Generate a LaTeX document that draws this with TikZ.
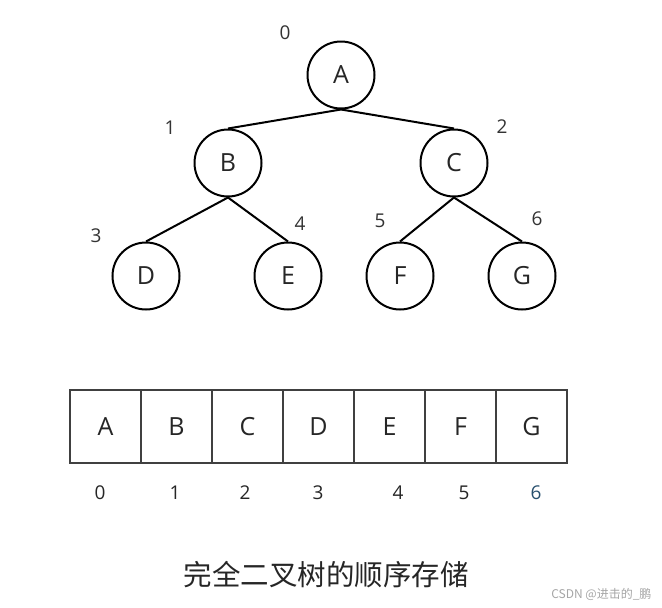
\documentclass[tikz,border=0pt]{standalone}
\usepackage{fontspec}
\setmainfont{Open Sans}
\newfontfamily\cjk{Noto Sans CJK SC}
\begin{document}
\begin{tikzpicture}[x=1pt,y=-1pt,
  tnode/.style={circle,draw=black,line width=2pt,minimum size=67pt,inner sep=0pt,font=\fontsize{25}{28}\selectfont,text=black!85},
  tedge/.style={line width=2pt,draw=black},
  idx/.style={font=\fontsize{19}{22}\selectfont,text=black!80},
  cell/.style={draw=black!75,line width=1.3pt,minimum width=71pt,minimum height=73pt,inner sep=0pt,font=\fontsize{25}{28}\selectfont,text=black!85},
  aidx/.style={font=\fontsize{19}{22}\selectfont,text=black!85}]
\useasboundingbox[fill=white] (0,0) rectangle (662,608);
% tree
\node[tnode] (A) at (341,75) {A};
\node[tnode] (B) at (228,163) {B};
\node[tnode] (C) at (454,163) {C};
\node[tnode] (D) at (146,276) {D};
\node[tnode] (E) at (288,276) {E};
\node[tnode] (F) at (400,276) {F};
\node[tnode] (G) at (522,276) {G};
\draw[tedge] (A.south) -- (B.north);
\draw[tedge] (A.south) -- (C.north);
\draw[tedge] (B.south) -- (D.north);
\draw[tedge] (B.south) -- (E.north);
\draw[tedge] (C.south) -- (F.north);
\draw[tedge] (C.south) -- (G.north);
% indices
\node[idx] (i0) at (285,33) {0};
\node[idx] (i1) at (170,128) {1};
\node[idx] (i2) at (502,127) {2};
\node[idx] (i3) at (96,236) {3};
\node[idx] (i4) at (300,224) {4};
\node[idx] (i5) at (380,221) {5};
\node[idx] (i6) at (537,219) {6};
% array
\node[cell] (a0) at (105.5,426.5) {A};
\node[cell] (a1) at (176.5,426.5) {B};
\node[cell] (a2) at (247.5,426.5) {C};
\node[cell] (a3) at (318.5,426.5) {D};
\node[cell] (a4) at (389.5,426.5) {E};
\node[cell] (a5) at (460.5,426.5) {F};
\node[cell] (a6) at (531.5,426.5) {G};
\node[aidx] (b0) at (100,493) {0};
\node[aidx] (b1) at (175,493) {1};
\node[aidx] (b2) at (245,493) {2};
\node[aidx] (b3) at (318,493) {3};
\node[aidx] (b4) at (398,493) {4};
\node[aidx] (b5) at (464,493) {5};
\node[aidx,text={rgb,255:red,40;green,80;blue,110}] (b6) at (536,493) {6};
% caption
\node[font=\cjk\fontsize{28.5}{32}\selectfont,text=black!85] (cap) at (326,575) {完全二叉树的顺序存储};
\node[font=\cjk\fontsize{12}{14}\selectfont,text=black!35,anchor=east] (wm) at (655,594) {CSDN @进击的\_鹏};
\end{tikzpicture}
\end{document}
